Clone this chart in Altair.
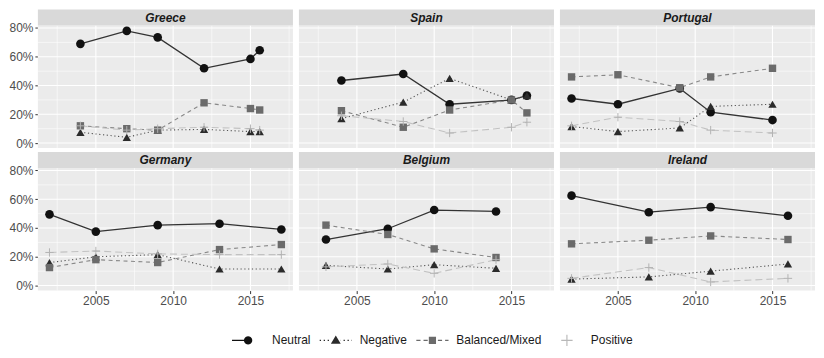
import math
import altair as alt
import pandas as pd

# ---------------- data ----------------
countries = ["Greece", "Spain", "Portugal", "Germany", "Belgium", "Ireland"]
categories = ["Neutral", "Negative", "Balanced/Mixed", "Positive"]

years = {
    "Greece": [2004, 2007, 2009, 2012, 2015.0, 2015.6],
    "Spain": [2004, 2008, 2011, 2015, 2016],
    "Portugal": [2002, 2005, 2009, 2011, 2015],
    "Germany": [2002, 2005, 2009, 2013, 2017],
    "Belgium": [2003, 2007, 2010, 2014],
    "Ireland": [2002, 2007, 2011, 2016],
}
neutral = {
    "Greece": [69, 78, 73.5, 52, 58.5, 64.5],
    "Spain": [43.5, 48, 27, 30, 33],
    "Portugal": [31, 27, 38, 21.5, 16],
    "Germany": [49.5, 37.5, 42, 43, 39],
    "Belgium": [32, 39.5, 52.5, 51.5],
    "Ireland": [62.5, 51, 54.5, 48.5],
}
negative = {
    "Greece": [7.5, 4, 9, 9.5, 8, 8],
    "Spain": [17, 28.5, 45, 30, 33],
    "Portugal": [11.5, 8, 10.5, 25.5, 27],
    "Germany": [16, 20, 21.5, 11.5, 11.5],
    "Belgium": [14, 11.5, 14.5, 12],
    "Ireland": [4.5, 6, 10, 15],
}
balanced = {
    "Greece": [12, 10, 9, 28, 24, 23],
    "Spain": [22.5, 11, 23, 30, 21],
    "Portugal": [46, 47.5, 38.5, 46, 52],
    "Germany": [12.5, 18, 16, 25, 28.5],
    "Belgium": [42, 35.5, 25.5, 19.5],
    "Ireland": [29, 31.5, 34.5, 32],
}
positive = {
    "Greece": [12, 9, 10, 11, 10, 9],
    "Spain": [19, 15, 7, 11, 14.5],
    "Portugal": [12, 18, 15, 9, 7],
    "Germany": [23, 24, 22, 21.5, 21.5],
    "Belgium": [13, 15, 8.5, 18],
    "Ireland": [5, 12.5, 2.5, 5],
}

x_ticks = [2005, 2010, 2015]
x_minor = [2002.5, 2007.5, 2012.5, 2017.5]
y_ticks = [0, 20, 40, 60, 80]
y_minor = [10, 30, 50, 70]

rows = []
for c in countries:
    for cat, series in zip(categories, [neutral, negative, balanced, positive]):
        for yr, v in zip(years[c], series[c]):
            rows.append({"country": c, "category": cat, "year": yr, "share": v})
df = pd.DataFrame(rows)

# ---------------- style ----------------
FONT = "Liberation Sans"
X_DOMAIN = [2001.25, 2017.75]
Y_LOW, Y_HIGH = -3.5, 81.7
PANEL_W, PANEL_H, STRIP_H = 256, 123, 16
Y_TOP = Y_HIGH + STRIP_H * (Y_HIGH - Y_LOW) / PANEL_H

line_style = {
    "Neutral": dict(color="#333333", strokeWidth=1.3),
    "Negative": dict(color="#555555", strokeWidth=1.1, strokeDash=[1.2, 2.6]),
    "Balanced/Mixed": dict(color="#888888", strokeWidth=1.1, strokeDash=[4, 3.5]),
    "Positive": dict(color="#c2c2c2", strokeWidth=1.1, strokeDash=[7, 4]),
}
point_color = {"Neutral": "#111111", "Negative": "#2b2b2b",
               "Balanced/Mixed": "#6b6b6b", "Positive": "#b3b3b3"}
PLUS = "M-1,0L1,0M0,-1L0,1"
point_style = {
    "Neutral": dict(shape="circle", filled=True, size=75),
    "Negative": dict(shape="triangle-up", filled=True, size=70),
    "Balanced/Mixed": dict(shape="square", filled=True, size=55),
    "Positive": dict(shape=PLUS, filled=False, size=70, strokeWidth=1),
}


# ----- legend key symbols (custom paths in the [-1, 1] box) -----
def rect(x0, x1, y0, y1):
    return f"M{x0:.3f},{y0:.3f}L{x1:.3f},{y0:.3f}L{x1:.3f},{y1:.3f}L{x0:.3f},{y1:.3f}Z"


def dashes(on, off, skip, lo=-0.85, hi=0.85, h=0.03):
    out, x = [], lo
    while x < hi:
        x1 = min(x + on, hi)
        if x1 <= -skip or x >= skip:
            out.append(rect(x, x1, -h, h))
        elif x < -skip:
            out.append(rect(x, -skip, -h, h))
        elif x1 > skip:
            out.append(rect(skip, x1, -h, h))
        x += on + off
    return "".join(out)


def circle(r, n=20):
    pts = [(r * math.cos(2 * math.pi * i / n), r * math.sin(2 * math.pi * i / n)) for i in range(n)]
    return "M" + "L".join(f"{a:.3f},{b:.3f}" for a, b in pts) + "Z"


legend_paths = [
    dashes(2, 0, 0.2) + circle(0.22),
    dashes(0.07, 0.14, 0.26) + "M0,-0.26L0.26,0.18L-0.26,0.18Z",
    dashes(0.22, 0.16, 0.2) + rect(-0.19, 0.19, -0.19, 0.19),
    dashes(0.3, 0.16, 2) + rect(-0.3, 0.3, -0.03, 0.03) + rect(-0.03, 0.03, -0.3, 0.3),
]
legend_colors = ["#111111", "#2b2b2b", "#6b6b6b", "#b8b8b8"]

LEG_X, LEG_Y = 192, 313
KEY = 38


def panel(country, show_x, show_y, with_legend=False):
    d = df[df.country == country]
    xscale = alt.Scale(domain=X_DOMAIN, nice=False, zero=False)
    yscale = alt.Scale(domain=[Y_LOW, Y_TOP], nice=False, zero=False)
    xaxis = alt.Axis(values=x_ticks, format="d", labels=show_x, ticks=show_x, title=None,
                     domain=False, grid=False, tickColor="#333333", tickSize=3,
                     labelPadding=2, labelFontSize=12, labelColor="#4d4d4d",
                     labelFont=FONT, labelOverlap=False)
    yaxis = alt.Axis(values=y_ticks, labelExpr="datum.value + '%'", labels=show_y, ticks=show_y,
                     title=None, domain=False, grid=False, tickColor="#333333", tickSize=3,
                     labelPadding=2, labelFontSize=12, labelColor="#4d4d4d",
                     labelFont=FONT, labelOverlap=False)
    X = lambda f, **k: alt.X(f, scale=xscale, axis=xaxis, title=None, **k)
    Y = lambda f, **k: alt.Y(f, scale=yscale, axis=yaxis, title=None, **k)

    frame = alt.Chart(pd.DataFrame({
        "country": [country], "x0": [X_DOMAIN[0]], "x1": [X_DOMAIN[1]],
        "xm": [sum(X_DOMAIN) / 2], "y0": [Y_LOW], "y1": [Y_HIGH], "ys": [Y_TOP],
        "ym": [(Y_HIGH + Y_TOP) / 2]}))

    layers = [frame.mark_rect(color="#ebebeb").encode(
        x=X("x0:Q"), x2="x1:Q", y=Y("y0:Q"), y2="y1:Q")]
    # grid lines
    layers.append(alt.Chart(pd.DataFrame({"v": x_minor})).mark_rule(color="white", strokeWidth=0.55)
                  .encode(x=X("v:Q")))
    layers.append(alt.Chart(pd.DataFrame({"v": y_minor})).mark_rule(color="white", strokeWidth=0.55)
                  .encode(y=Y("v:Q")))
    layers.append(alt.Chart(pd.DataFrame({"v": x_ticks})).mark_rule(color="white", strokeWidth=1.1)
                  .encode(x=X("v:Q")))
    layers.append(alt.Chart(pd.DataFrame({"v": y_ticks})).mark_rule(color="white", strokeWidth=1.1)
                  .encode(y=Y("v:Q")))
    base = alt.Chart(d)
    for cat in categories:
        layers.append(base.transform_filter(alt.datum.category == cat)
                      .mark_line(**line_style[cat])
                      .encode(x=X("year:Q"), y=Y("share:Q")))
    for cat in categories:
        layers.append(base.transform_filter(alt.datum.category == cat)
                      .mark_point(color=point_color[cat], opacity=1, **point_style[cat])
                      .encode(x=X("year:Q"), y=Y("share:Q")))
    # facet strip
    layers.append(frame.mark_rect(color="#d9d9d9").encode(
        x=X("x0:Q"), x2="x1:Q", y=Y("y1:Q"), y2="ys:Q"))
    layers.append(frame.mark_text(fontStyle="italic", fontWeight="bold", fontSize=12,
                                  font=FONT, color="#1a1a1a", baseline="middle").encode(
        x=X("xm:Q"), y=Y("ym:Q"), text="country:N"))
    if with_legend:
        leg = alt.Chart(pd.DataFrame({"key": categories})).transform_filter("false")
        common = dict(orient="none", legendX=LEG_X, legendY=LEG_Y, direction="horizontal",
                      title=None, labelFontSize=12, labelFont=FONT, labelOffset=5,
                      labelColor="#1a1a1a", columnPadding=6, symbolSize=KEY * KEY,
                      symbolStrokeWidth=0, symbolOpacity=1)
        layers.append(leg.mark_point(filled=True, opacity=1).encode(
            shape=alt.Shape("key:N", scale=alt.Scale(domain=categories, range=legend_paths),
                            legend=alt.Legend(**common)),
            color=alt.Color("key:N", scale=alt.Scale(domain=categories, range=legend_colors),
                            legend=alt.Legend(**common)),
        ))
    return alt.layer(*layers).properties(width=PANEL_W, height=PANEL_H + STRIP_H)


row1 = alt.hconcat(panel("Greece", False, True, True), panel("Spain", False, False),
                   panel("Portugal", False, False), spacing=4)
row2 = alt.hconcat(panel("Germany", True, True), panel("Belgium", True, False),
                   panel("Ireland", True, False), spacing=4)

chart = (alt.vconcat(row1, row2, spacing=2)
         .properties(padding={"left": 0, "top": 0, "right": 0, "bottom": 0})
         .configure(font=FONT, background="white")
         .configure_view(strokeWidth=0))

chart.save("out.html", embed_options={"renderer": "svg", "actions": False})
